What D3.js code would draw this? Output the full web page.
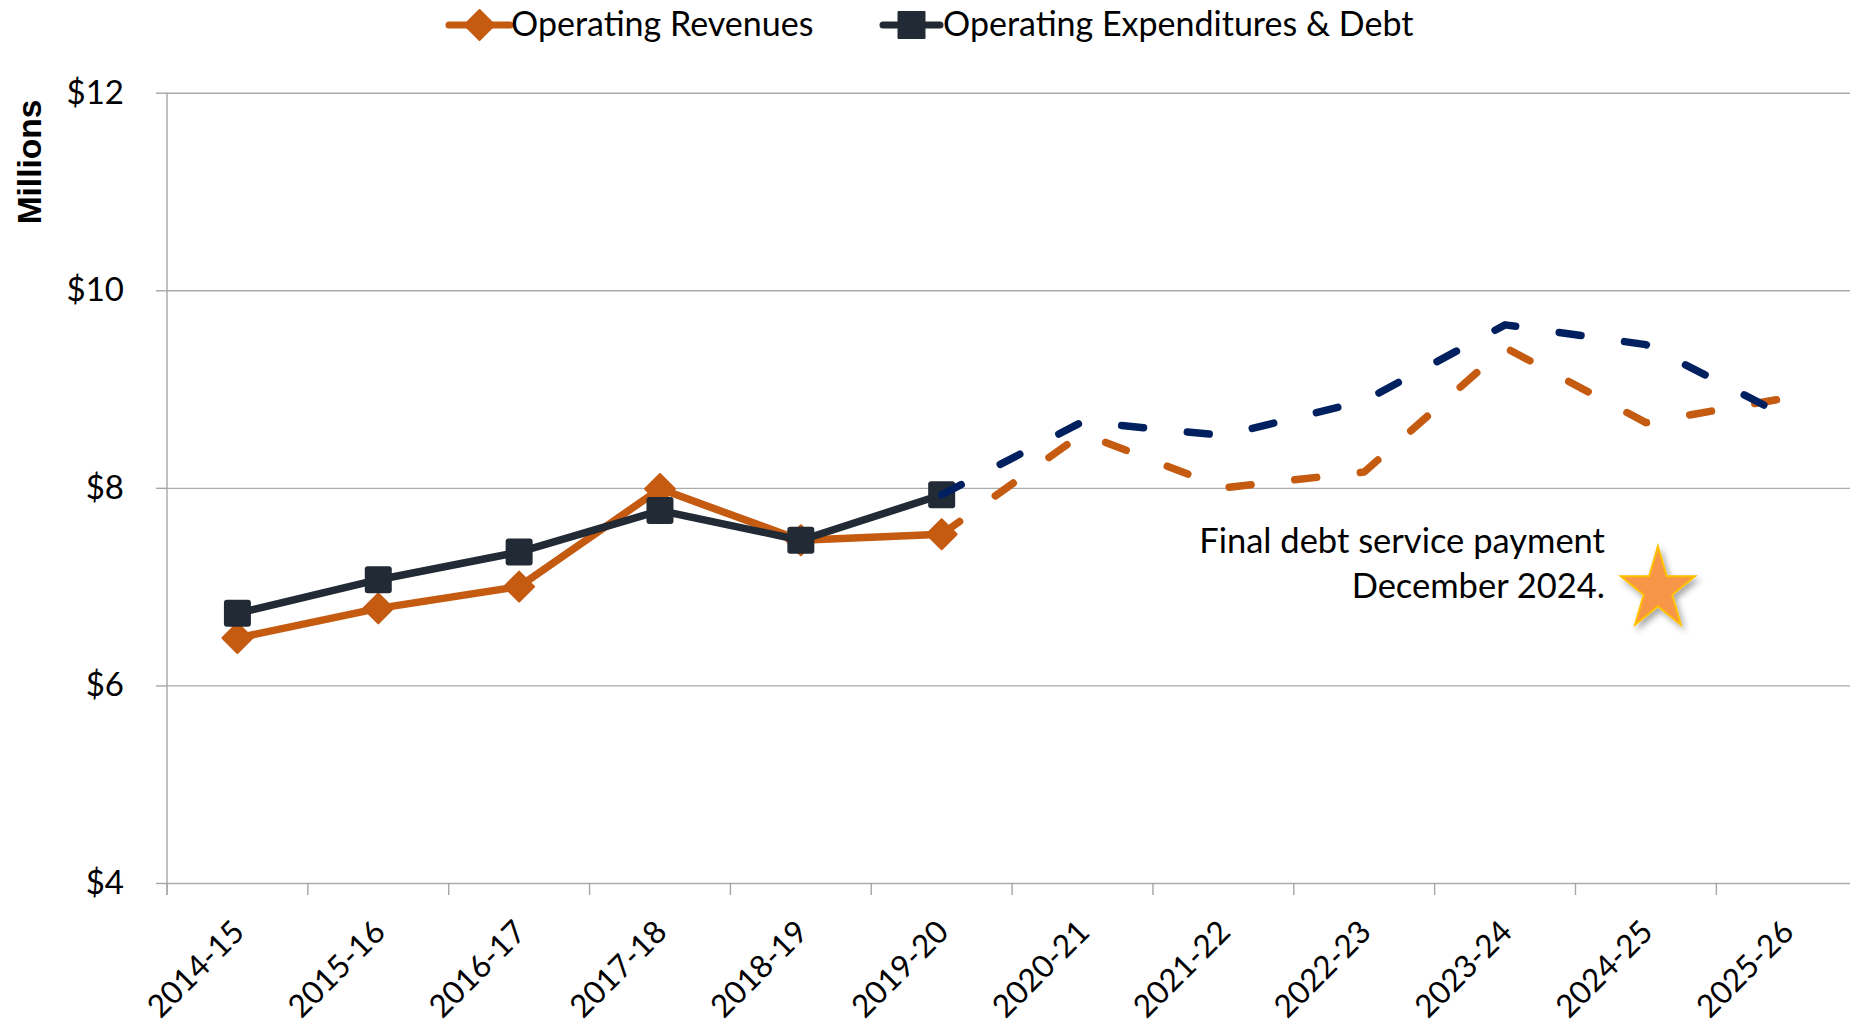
<!DOCTYPE html>
<meta charset="utf-8">
<script src="https://d3js.org/d3.v7.min.js"></script>
<style>
  body { margin: 0; background: #fff; }
</style>
<div id="my_dataviz"></div>
<script>

// fiscal years on the x axis
var years = ["2014-15", "2015-16", "2016-17", "2017-18", "2018-19", "2019-20",
             "2020-21", "2021-22", "2022-23", "2023-24", "2024-25", "2025-26"];

// actuals (solid), $ millions
var actualYears = ["2014-15", "2015-16", "2016-17", "2017-18", "2018-19", "2019-20"];
var revenueActual = [6.48, 6.78, 7.00, 7.99, 7.47, 7.53];
var expendActual  = [6.73, 7.07, 7.35, 7.77, 7.47, 7.93];

// projections (dashed), start from last actual
var projYears = ["2019-20", "2020-21", "2021-22", "2022-23", "2023-24", "2024-25", "2025-26"];
var revenueProj = [7.53, 8.55, 8.00, 8.16, 9.42, 8.66, 8.91];
var expendProj  = [7.93, 8.67, 8.53, 8.88, 9.65, 9.45, 8.72];

var yTicks = [4, 6, 8, 10, 12];

var W = 1850, H = 1026;
var plotLeft = 167, plotBottom = 883, plotTop = 92.7, step = 140.85;

var orange = "#C55A11", dark = "#222A35", navy = "#002060";
var font = "Lato, 'Open Sans', sans-serif";

var svg = d3.select("#my_dataviz")
  .append("svg")
    .attr("width", W)
    .attr("height", H)
    .style("background", "#fff");

// drop shadow for the star
var defs = svg.append("defs");
defs.append("filter")
    .attr("id", "shadow")
    .attr("x", "-30%").attr("y", "-30%").attr("width", "160%").attr("height", "160%")
  .append("feDropShadow")
    .attr("dx", 3).attr("dy", 4).attr("stdDeviation", 3)
    .attr("flood-color", "#000").attr("flood-opacity", 0.35);

// scales
var x = d3.scaleBand()
  .domain(years)
  .range([plotLeft, plotLeft + step * years.length]);
var y = d3.scaleLinear()
  .domain([4, 12])
  .range([plotBottom, plotTop]);
var cx = function(d) { return x(d) + x.bandwidth() / 2; };

// gridlines
svg.append("g")
    .attr("transform", "translate(" + plotLeft + ",0)")
    .call(d3.axisLeft(y).tickValues(yTicks).tickSize(-(W - plotLeft)).tickFormat(""))
    .call(function(g) { g.select(".domain").remove(); })
    .selectAll("line")
      .attr("stroke", "#ababab")
      .attr("stroke-width", 1.4);

// Y axis
var yAxis = svg.append("g")
    .attr("transform", "translate(" + plotLeft + ",0)")
    .call(d3.axisLeft(y).tickValues(yTicks).tickSize(11).tickPadding(32)
      .tickFormat(function(d) { return "$" + d; }));
yAxis.select(".domain")
    .attr("d", "M0," + plotTop + "V" + (plotBottom + 12))
    .attr("stroke", "#a6a6a6").attr("stroke-width", 1.4);
yAxis.selectAll("line").attr("stroke", "#a6a6a6").attr("stroke-width", 1.4);
yAxis.selectAll("text")
    .style("font-family", font)
    .style("font-size", "33px")
    .attr("fill", "#000");

// X axis (ticks between categories)
var xAxis = svg.append("g")
    .attr("transform", "translate(0," + plotBottom + ")")
    .call(d3.axisBottom(x).tickSize(0).tickPadding(0));
xAxis.select(".domain").remove();
xAxis.selectAll(".tick text")
    .attr("x", 0).attr("y", 0).attr("dy", "0.35em")
    .attr("text-anchor", "end")
    .attr("transform", "translate(1,43) rotate(-45)")
    .style("font-family", font)
    .style("font-size", "31.5px")
    .attr("fill", "#000");
svg.append("g").selectAll("line")
  .data(years)
  .join("line")
    .attr("x1", function(d) { return x(d); })
    .attr("x2", function(d) { return x(d); })
    .attr("y1", plotBottom)
    .attr("y2", plotBottom + 12)
    .attr("stroke", "#a6a6a6")
    .attr("stroke-width", 1.4);

// Y axis label
svg.append("text")
    .attr("text-anchor", "middle")
    .attr("transform", "translate(41,162) rotate(-90)")
    .style("font-family", "'Liberation Sans', Arial, sans-serif")
    .style("font-weight", "bold")
    .style("font-size", "33.5px")
    .text("Millions");

var line = d3.line()
    .x(function(d) { return cx(d[0]); })
    .y(function(d) { return y(d[1]); });

function diamond(s) {
  return "M0," + (-s) + "L" + s + ",0L0," + s + "L" + (-s) + ",0Z";
}

// Operating revenues (actual)
var rev = d3.zip(actualYears, revenueActual);
svg.append("path")
    .datum(rev)
    .attr("fill", "none")
    .attr("stroke", orange)
    .attr("stroke-width", 7.5)
    .attr("stroke-linejoin", "round")
    .attr("d", line);
svg.append("g").selectAll("path")
  .data(rev)
  .join("path")
    .attr("transform", function(d) { return "translate(" + cx(d[0]) + "," + y(d[1]) + ")"; })
    .attr("d", diamond(15))
    .attr("fill", orange)
    .attr("stroke", orange)
    .attr("stroke-width", 2)
    .attr("stroke-linejoin", "round");

// Operating expenditures & debt (actual)
var exp = d3.zip(actualYears, expendActual);
svg.append("path")
    .datum(exp)
    .attr("fill", "none")
    .attr("stroke", dark)
    .attr("stroke-width", 7.5)
    .attr("stroke-linejoin", "round")
    .attr("d", line);
svg.append("g").selectAll("rect")
  .data(exp)
  .join("rect")
    .attr("x", function(d) { return cx(d[0]) - 13.5; })
    .attr("y", function(d) { return y(d[1]) - 13.5; })
    .attr("width", 27)
    .attr("height", 27)
    .attr("rx", 3)
    .attr("fill", dark);

// projections
svg.append("path")
    .datum(d3.zip(projYears, revenueProj))
    .attr("fill", "none")
    .attr("stroke", orange)
    .attr("stroke-width", 7.5)
    .attr("stroke-linecap", "round")
    .attr("stroke-linejoin", "round")
    .attr("stroke-dasharray", "22,44")
    .attr("d", line);
svg.append("path")
    .datum(d3.zip(projYears, expendProj))
    .attr("fill", "none")
    .attr("stroke", navy)
    .attr("stroke-width", 7.5)
    .attr("stroke-linecap", "round")
    .attr("stroke-linejoin", "round")
    .attr("stroke-dasharray", "22,44")
    .attr("d", line);

// annotation
svg.append("text")
    .attr("x", 1605).attr("y", 553)
    .attr("text-anchor", "end")
    .style("font-family", font)
    .style("font-size", "34.5px")
    .text("Final debt service payment");
svg.append("text")
    .attr("x", 1605).attr("y", 598)
    .attr("text-anchor", "end")
    .style("font-family", font)
    .style("font-size", "34.5px")
    .text("December 2024.");

// star
var R = 39, r = 15, pts = [];
for (var k = 0; k < 10; k++) {
  var a = -Math.PI / 2 + k * Math.PI / 5, rr = k % 2 ? r : R;
  pts.push([rr * Math.cos(a), rr * Math.sin(a) * 1.11]);
}
svg.append("path")
    .attr("transform", "translate(" + (cx("2024-25") + 12) + "," + (y(7) + 3) + ")")
    .attr("d", "M" + pts.join("L") + "Z")
    .attr("fill", "#F79646")
    .attr("stroke", "#FFC000")
    .attr("stroke-width", 2)
    .attr("filter", "url(#shadow)");

// legend
var legend = [
  {name: "Operating Revenues", color: orange, x1: 449, x2: 510, tx: 511, shape: "diamond"},
  {name: "Operating Expenditures & Debt", color: dark, x1: 883, x2: 940, tx: 943, shape: "square"}
];
var lg = svg.append("g").selectAll("g")
  .data(legend)
  .join("g");
lg.append("line")
    .attr("x1", function(d) { return d.x1; })
    .attr("x2", function(d) { return d.x2; })
    .attr("y1", 25).attr("y2", 25)
    .attr("stroke", function(d) { return d.color; })
    .attr("stroke-width", 7)
    .attr("stroke-linecap", "round");
lg.append("path")
    .attr("transform", function(d) { return "translate(" + (d.x1 + d.x2) / 2 + ",25)"; })
    .attr("d", function(d) { return d.shape == "diamond" ? diamond(15) : "M-13,-13H13V13H-13Z"; })
    .attr("fill", function(d) { return d.color; })
    .attr("stroke", function(d) { return d.color; })
    .attr("stroke-width", 2)
    .attr("stroke-linejoin", "round");
lg.append("text")
    .attr("x", function(d) { return d.tx; })
    .attr("y", 36)
    .style("font-family", font)
    .style("font-size", "34px")
    .text(function(d) { return d.name; });

</script>
